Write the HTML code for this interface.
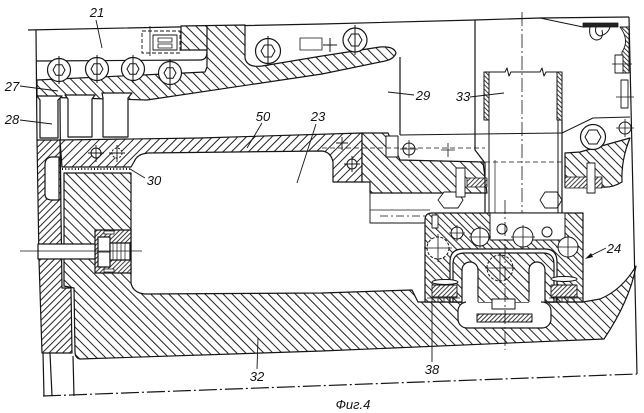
<!DOCTYPE html>
<html><head><meta charset="utf-8"><style>
html,body{margin:0;padding:0;background:#fff;}
svg{display:block}
text{font-family:"Liberation Sans",sans-serif;font-style:italic;font-size:13px;fill:#111;stroke:none}
</style></head><body>
<svg width="644" height="413" viewBox="0 0 644 413" xmlns="http://www.w3.org/2000/svg">
<defs>
<pattern id="b7" width="7" height="7" patternUnits="userSpaceOnUse" patternTransform="rotate(-45)"><rect width="7" height="7" fill="#fff"/><line x1="1" y1="0" x2="1" y2="7" stroke="#222" stroke-width="1"/></pattern>
<pattern id="b6" width="6.4" height="7" patternUnits="userSpaceOnUse" patternTransform="rotate(-45)"><rect width="6.4" height="7" fill="#fff"/><line x1="1" y1="0" x2="1" y2="7" stroke="#222" stroke-width="1"/></pattern>
<pattern id="b5" width="5.2" height="7" patternUnits="userSpaceOnUse" patternTransform="rotate(-45)"><rect width="5.2" height="7" fill="#fff"/><line x1="1" y1="0" x2="1" y2="7" stroke="#222" stroke-width="1"/></pattern>
<pattern id="b3" width="3.2" height="7" patternUnits="userSpaceOnUse" patternTransform="rotate(-45)"><rect width="3.2" height="7" fill="#fff"/><line x1="1" y1="0" x2="1" y2="7" stroke="#222" stroke-width="0.9"/></pattern>
<pattern id="f6" width="6" height="7" patternUnits="userSpaceOnUse" patternTransform="rotate(45)"><rect width="6" height="7" fill="#fff"/><line x1="1" y1="0" x2="1" y2="7" stroke="#222" stroke-width="1"/></pattern>
<pattern id="f5" width="4.8" height="7" patternUnits="userSpaceOnUse" patternTransform="rotate(45)"><rect width="4.8" height="7" fill="#fff"/><line x1="1" y1="0" x2="1" y2="7" stroke="#222" stroke-width="1"/></pattern>
<pattern id="f3" width="3.2" height="7" patternUnits="userSpaceOnUse" patternTransform="rotate(45)"><rect width="3.2" height="7" fill="#fff"/><line x1="1" y1="0" x2="1" y2="7" stroke="#222" stroke-width="0.9"/></pattern>
</defs>
<rect width="644" height="413" fill="#fff"/>
<g stroke="#151515" stroke-width="1.2" fill="none" stroke-linejoin="round">

<!-- top outline -->
<polyline points="28,30 322,24 475,20 540,18 629,17"/>
<line x1="36" y1="30" x2="37" y2="140"/>
<line x1="629" y1="17" x2="637" y2="374"/>
<path d="M36,61 L200,60 Q207,60 207,52 L207,26"/>

<!-- region A (upper slanted band) -->
<path fill="url(#b7)" d="M37,80 L205,72 L207,67 L207,50 L181,50 L181,26 L245,25 L245,58 Q247,68 262,66 L322,56 L380,47 Q394,46 396,53 Q394,59 385,61 L322,74 L147,100 L37,97 Z"/>
<line x1="207" y1="26" x2="207" y2="50"/>

<!-- dashed boxes in 21 -->
<rect x="142" y="31" width="38" height="22" stroke-dasharray="4,2" stroke-width="0.9"/>
<rect x="153" y="35" width="24" height="15" stroke-width="0.9"/>
<rect x="158" y="38" width="14" height="4" stroke-width="0.8"/>
<rect x="158" y="44" width="14" height="4" stroke-width="0.8"/>
<line x1="150" y1="26" x2="150" y2="56" stroke-width="0.8"/>
<rect x="300" y="38" width="22" height="12" stroke-width="0.8"/>

<!-- bolts in plate -->
<g fill="#fff">
<circle cx="59" cy="70" r="11.5"/><circle cx="97" cy="69" r="11.5"/><circle cx="133" cy="69" r="11.5"/><circle cx="170" cy="73" r="11.5"/>
<circle cx="268" cy="51" r="12.5"/><circle cx="355" cy="40" r="12"/>
</g>
<g stroke-width="1">
<polygon transform="translate(59,70)" points="6,0 3,5.2 -3,5.2 -6,0 -3,-5.2 3,-5.2"/>
<polygon transform="translate(97,69)" points="6,0 3,5.2 -3,5.2 -6,0 -3,-5.2 3,-5.2"/>
<polygon transform="translate(133,69)" points="6,0 3,5.2 -3,5.2 -6,0 -3,-5.2 3,-5.2"/>
<polygon transform="translate(170,73)" points="6,0 3,5.2 -3,5.2 -6,0 -3,-5.2 3,-5.2"/>
<polygon transform="translate(268,51)" points="7,0 3.5,6 -3.5,6 -7,0 -3.5,-6 3.5,-6"/>
<polygon transform="translate(355,40)" points="7,0 3.5,6 -3.5,6 -7,0 -3.5,-6 3.5,-6"/>
<path d="M59,56 V84 M97,55 V83 M133,55 V83 M170,59 V90 M268,36 V66 M355,25 V55"/>
<path d="M330,38 V52 M323,45 H337"/>
</g>

<!-- blocks 28 -->
<path fill="#fff" d="M37,96 L62,96 L58,100 L58,138 L40,138 L40,100 Z"/>
<path fill="#fff" d="M65,95 L95,95 L92,99 L92,137 L68,137 L68,99 Z"/>
<path fill="#fff" d="M102,93 L132,93 L128,98 L128,137 L103,137 L103,98 Z"/>
<line x1="60" y1="98" x2="61" y2="232"/>

<!-- left wall -->
<path fill="url(#f5)" d="M37,140 L60,140 L62,288 L71,288 L72,353 L42,353 L39,260 Z"/>
<path fill="#fff" d="M59,157 L51,157 Q45,158 45,165 L45,194 Q45,200 52,200 L59,200 Z"/>

<!-- bar 50 with lug -->
<path fill="url(#f6)" d="M60,140 L200,138 L362,133 L362,182 L333,182 L333,162 Q331,152 322,151 L148,153 Q137,154 134,162 L131,167 L62,167 Z"/>
<line x1="62" y1="169" x2="131" y2="169" stroke-dasharray="1,2.2" stroke-width="2"/>
<g fill="#fff" stroke-width="1">
<circle cx="96" cy="153" r="5"/><circle cx="117" cy="153" r="5" stroke-dasharray="2,1.5"/>
<circle cx="352" cy="164" r="5"/>
</g>
<path d="M96,145 V162 M88,153 H104 M117,145 V162 M109,153 H125 M352,156 V172 M344,164 H360 M342,137 V150 M336,143 H348" stroke-width="0.9"/>

<!-- block 32 -->
<path fill="url(#b6)" d="M64,173 L131,173 L131,283 Q133,293 145,294 L322,293 L412,290 L418,302 L583,302 L600,299 Q622,290 636,266 Q630,300 604,339 L322,351 L80,359 Q75,358 75,352 L74,288 L64,286 Z"/>

<!-- nut housing and pin -->
<rect x="95" y="230" width="36" height="43" fill="url(#f3)"/>
<rect x="98" y="237" width="12" height="30" fill="#fff"/>
<line x1="98" y1="252" x2="110" y2="252" stroke-width="0.9"/>
<rect x="110" y="243" width="20" height="17" fill="#fff"/>
<path d="M113,243 V260 M117,243 V260 M121,243 V260 M125,243 V260" stroke-width="0.7"/>
<rect x="104" y="231" width="10" height="3" fill="#fff" stroke-width="0.8"/>
<rect x="104" y="269" width="10" height="3" fill="#fff" stroke-width="0.8"/>
<rect x="38" y="244" width="57" height="15" fill="#fff"/>
<line x1="20" y1="251" x2="142" y2="251" stroke-width="0.7"/>

<!-- lower left lines -->
<line x1="43" y1="353" x2="44" y2="396"/>
<line x1="50" y1="353" x2="52" y2="396"/>
<line x1="73" y1="356" x2="74" y2="396"/>
<line x1="43" y1="396" x2="637" y2="374" stroke-dasharray="18,3,2,3"/>

<!-- P1 -->
<path fill="url(#b7)" d="M362,133 L388,133 L400,160 L483,162 L487,193 L370,193 L370,182 L362,182 Z"/>
<rect x="386" y="136" width="12" height="21" fill="#fff" stroke-width="1"/>
<circle cx="409" cy="149" r="6" fill="#fff" stroke-width="1"/>
<path d="M409,140 V158 M400,149 H418 M448,143 V157 M441,150 H455" stroke-width="0.8"/>
<line x1="400" y1="57" x2="400" y2="135"/>
<line x1="400" y1="135" x2="562" y2="133" stroke-width="1"/>
<line x1="322" y1="148" x2="485" y2="148" stroke-dasharray="5,3" stroke-width="0.8"/>
<line x1="485" y1="162" x2="562" y2="162" stroke-dasharray="5,3" stroke-width="0.8"/>
<rect x="467" y="178" width="20" height="9" fill="url(#f3)" stroke-width="0.8"/>
<polyline points="370,193 370,223 430,223" stroke-width="0.9"/>
<line x1="370" y1="210" x2="430" y2="210" stroke-width="0.8"/>
<line x1="380" y1="216" x2="425" y2="216" stroke-dasharray="8,3,2,3" stroke-width="0.8"/>
<polygon points="438,200 444,192 458,192 463,200 458,208 444,208" stroke-width="0.9" fill="#fff"/>
<polygon points="540,200 545,192 557,192 562,200 557,208 545,208" stroke-width="0.9" fill="#fff"/>
<rect x="456" y="168" width="9" height="29" fill="#fff" stroke-width="0.9"/>
<rect x="587" y="163" width="8" height="30" fill="#fff" stroke-width="0.9"/>

<!-- P2 -->
<path fill="url(#b6)" d="M565,153 L580,152 L630,138 Q621,160 622,182 Q612,188 603,187 L565,187 Z"/>
<rect x="565" y="177" width="37" height="11" fill="url(#f3)" stroke-width="0.8"/>
<rect x="587" y="163" width="8" height="30" fill="#fff" stroke-width="0.9"/>
<polyline points="562,133 593,118 630,117" stroke-width="1"/>
<circle cx="593" cy="137" r="12.5" fill="#fff"/>
<polygon transform="translate(593,137)" points="8,0 4,7 -4,7 -8,0 -4,-7 4,-7" stroke-width="1"/>
<circle cx="625" cy="128" r="6" fill="#fff" stroke-width="1"/>
<path d="M625,119 V137 M616,128 H634" stroke-width="0.8"/>

<!-- column and tube 33 -->
<polyline points="475,20 475,150 485,163 485,240"/>
<line x1="489" y1="120" x2="489" y2="240" stroke-width="1"/>
<line x1="558" y1="120" x2="558" y2="240" stroke-width="1"/>
<line x1="562" y1="120" x2="562" y2="240"/>
<rect x="484" y="72" width="5" height="48" fill="url(#b3)" stroke-width="1"/>
<rect x="557" y="72" width="5" height="48" fill="url(#b3)" stroke-width="1"/>
<polyline points="484,72 505,72 507,68 509,76 511,72 540,72 542,68 544,76 546,72 562,72" stroke-width="1"/>
<line x1="522" y1="12" x2="522" y2="255" stroke-dasharray="14,3,2,3" stroke-width="0.8"/>
<line x1="495" y1="160" x2="495" y2="240" stroke-width="0.7"/>

<!-- top right details -->
<polyline points="540,18 583,27 618,25" stroke-width="1"/>
<rect x="583" y="23" width="35" height="4" fill="#222" stroke-width="0.8"/>
<path d="M590,27 Q588,38 596,40 Q604,40 602,30 M596,27 Q594,34 600,36 Q608,34 610,27" stroke-width="1"/>
<path d="M620,27 Q630,40 622,52 L622,73 L629,73 L629,27 Z" fill="url(#b3)" stroke-width="0.9"/>
<rect x="615" y="55" width="8" height="18" fill="#fff" stroke-width="0.9"/>
<rect x="621" y="80" width="7" height="28" fill="#fff" stroke-width="0.9"/>
<path d="M612,64 H632 M616,97 H634" stroke-width="0.8"/>

<!-- carriage 24 -->
<path fill="url(#b5)" d="M425,220 Q425,213 432,213 L583,213 L583,302 L425,302 Z"/>
<rect x="490" y="213" width="75" height="27" fill="#fff" stroke="none"/>
<path d="M490,213 V240 H565 V213 M490,213 H565" stroke-width="1"/>
<path fill="#fff" d="M450,302 L450,262 Q450,249 463,249 L545,249 Q557,249 557,262 L557,302 Z"/>
<path fill="url(#b6)" d="M453,302 L453,264 Q453,253 465,253 L543,253 Q554,253 554,264 L554,302 Z"/>
<rect x="462" y="262" width="16" height="62" rx="8" fill="#fff"/>
<rect x="529" y="262" width="16" height="62" rx="8" fill="#fff"/>
<rect x="458" y="302" width="93" height="26" rx="9" fill="#fff"/>
<rect x="466" y="296" width="12" height="10" fill="#fff" stroke="none"/>
<rect x="529" y="296" width="12" height="10" fill="#fff" stroke="none"/>
<rect x="478" y="290" width="51" height="12" fill="url(#b6)" stroke="none"/>
<line x1="478" y1="290" x2="478" y2="302" stroke-width="1"/>
<line x1="529" y1="290" x2="529" y2="302" stroke-width="1"/>
<rect x="477" y="314" width="55" height="8" fill="url(#f3)" stroke-width="1"/>
<rect x="492" y="299" width="23" height="10" fill="#fff" stroke-width="1"/>
<!-- flanges & seals -->
<rect x="432" y="285" width="25" height="12" fill="url(#f3)" stroke-width="0.9"/>
<rect x="551" y="285" width="26" height="12" fill="url(#f3)" stroke-width="0.9"/>
<ellipse cx="445" cy="282" rx="13" ry="2.5" fill="#fff" stroke-width="1"/>
<ellipse cx="564" cy="279" rx="13" ry="2.5" fill="#fff" stroke-width="1"/>
<path d="M427,298 H460 M549,298 H583 M432,298 V302 M438,298 V302 M444,298 V302 M450,298 V302 M556,298 V302 M562,298 V302 M568,298 V302 M574,298 V302" stroke-width="0.8"/>
<!-- carriage bolts -->
<g stroke-width="1">
<circle cx="438" cy="248" r="11" fill="#fff" stroke-dasharray="3,1.5"/>
<circle cx="480" cy="237" r="9" fill="#fff"/>
<circle cx="523" cy="237" r="10" fill="#fff"/>
<circle cx="568" cy="247" r="10" fill="#fff"/>
<circle cx="500" cy="268" r="13" stroke-dasharray="3,1.5"/>
<circle cx="457" cy="233" r="6" fill="#fff"/>
<circle cx="502" cy="229" r="5" fill="#fff"/>
<circle cx="547" cy="232" r="5" fill="#fff"/>
<path d="M438,234 V262 M424,248 H452 M480,226 V248 M469,237 H491 M523,225 V249 M511,237 H535 M568,235 V259 M556,247 H580 M500,253 V283 M485,268 H515 M457,225 V241 M449,233 H465" stroke-width="0.8"/>
</g>
<rect x="432" y="215" width="6" height="13" fill="#fff" stroke-width="0.9"/>
<line x1="505" y1="200" x2="505" y2="350" stroke-dasharray="14,3,2,3" stroke-width="0.8"/>
<line x1="432" y1="303" x2="432" y2="362" stroke-width="0.9"/>

<!-- leaders -->
<g stroke-width="0.9">
<line x1="96" y1="20" x2="102" y2="48"/>
<line x1="20" y1="86" x2="58" y2="91"/>
<line x1="20" y1="120" x2="52" y2="124"/>
<line x1="262" y1="123" x2="247" y2="148"/>
<line x1="316" y1="124" x2="297" y2="183"/>
<line x1="388" y1="92" x2="414" y2="95"/>
<line x1="470" y1="97" x2="504" y2="93"/>
<line x1="145" y1="178" x2="130" y2="169"/>
<line x1="606" y1="248" x2="588" y2="257"/>
<line x1="257" y1="369" x2="258" y2="338"/>
</g>
<polygon points="585,259 591,253 593,257" fill="#111" stroke="none"/>
</g>

<!-- labels -->
<text x="97" y="17" text-anchor="middle">21</text>
<text x="12" y="91" text-anchor="middle">27</text>
<text x="12" y="124" text-anchor="middle">28</text>
<text x="263" y="121" text-anchor="middle">50</text>
<text x="318" y="121" text-anchor="middle">23</text>
<text x="423" y="100" text-anchor="middle">29</text>
<text x="463" y="101" text-anchor="middle">33</text>
<text x="154" y="185" text-anchor="middle">30</text>
<text x="614" y="253" text-anchor="middle">24</text>
<text x="257" y="381" text-anchor="middle">32</text>
<text x="432" y="374" text-anchor="middle">38</text>
<text x="353" y="409" text-anchor="middle">Фиг.4</text>
</svg>
</body></html>
